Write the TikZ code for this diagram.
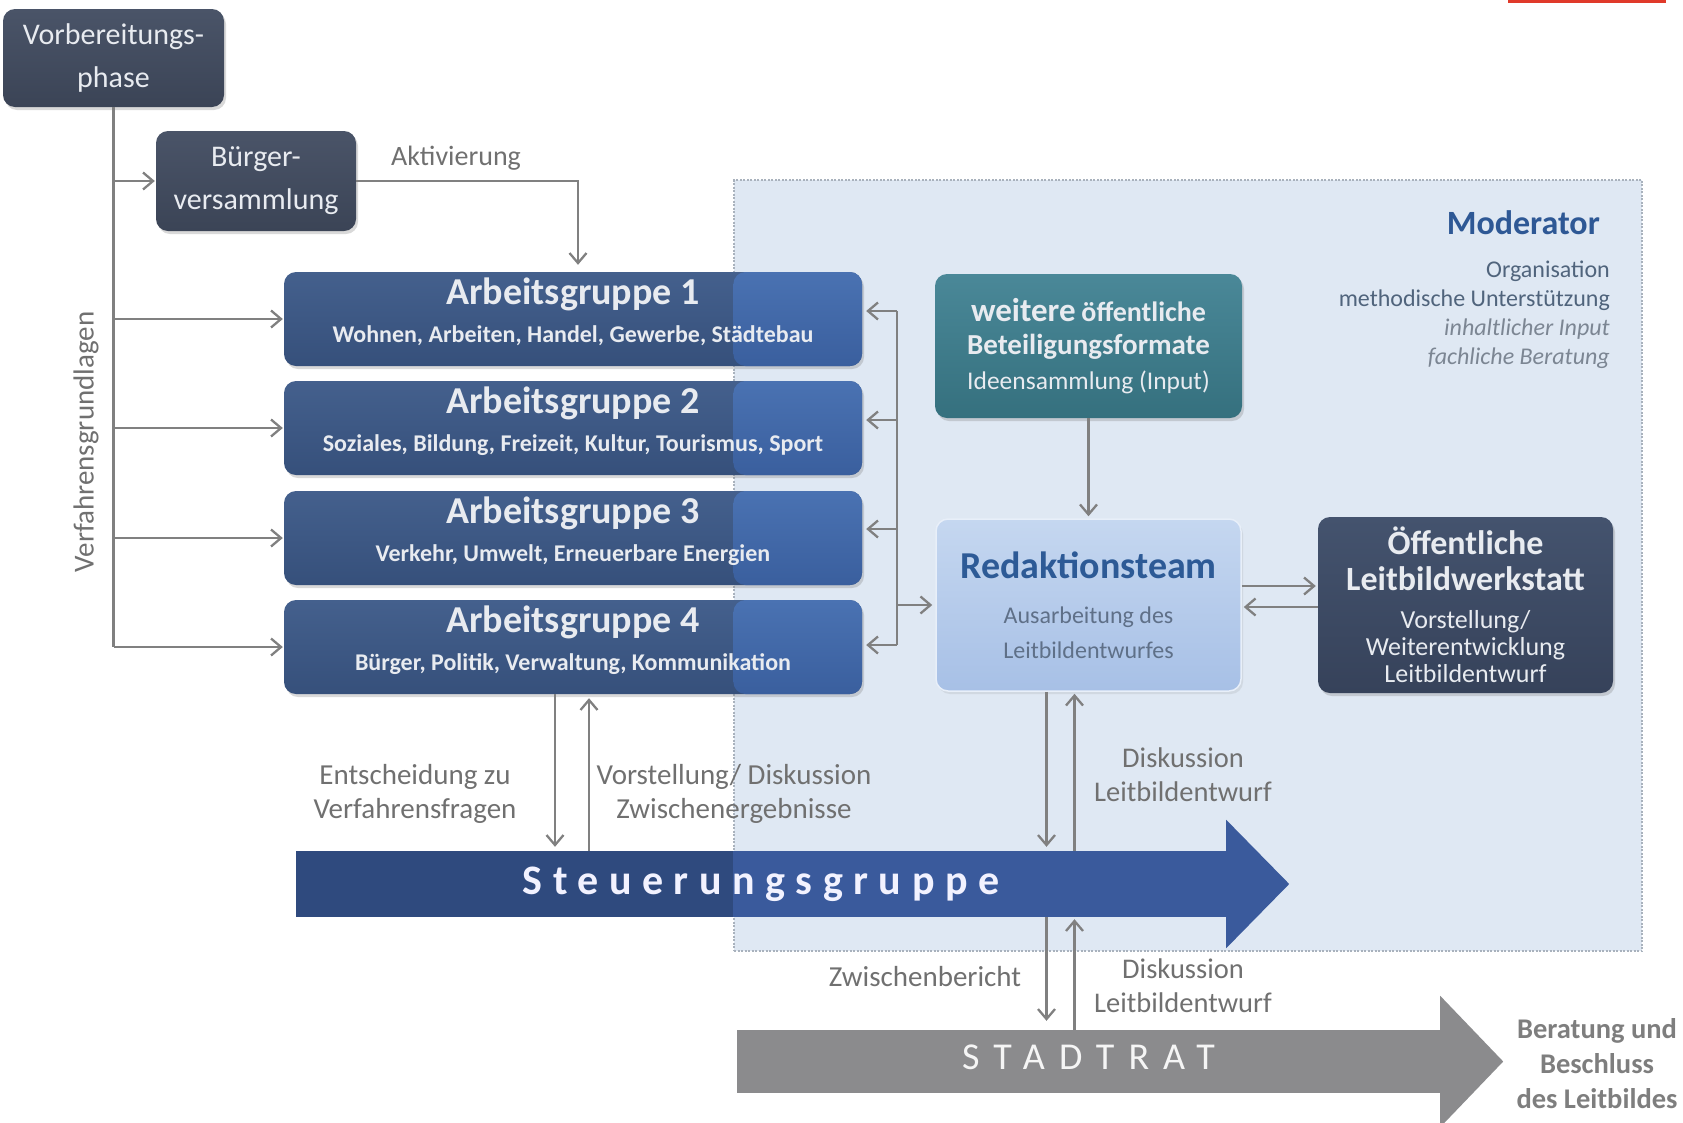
\documentclass[tikz,border=0pt]{standalone}
\usepackage{fontspec}
\setmainfont{Carlito}
\usetikzlibrary{arrows.meta,calc,shadows}

\definecolor{slatetop}{HTML}{4A5468}
\definecolor{slatebot}{HTML}{3B4456}
\definecolor{boxtext}{HTML}{E8EBF0}
\definecolor{agtopL}{HTML}{44608D}
\definecolor{agbotL}{HTML}{36507B}
\definecolor{agtopR}{HTML}{4A72B2}
\definecolor{agbotR}{HTML}{3A5F9E}
\definecolor{tealtop}{HTML}{4A8898}
\definecolor{tealbot}{HTML}{35707E}
\definecolor{rttop}{HTML}{C5D7F0}
\definecolor{rtbot}{HTML}{A7C0E6}
\definecolor{rtblue}{HTML}{2D5A96}
\definecolor{rtsub}{HTML}{5F7088}
\definecolor{owtop}{HTML}{44536E}
\definecolor{owbot}{HTML}{36425A}
\definecolor{sgleft}{HTML}{2F4A7E}
\definecolor{sgright}{HTML}{3A5A9C}
\definecolor{stgray}{HTML}{8B8B8D}
\definecolor{modfill}{HTML}{DFE8F3}
\definecolor{modborder}{HTML}{A9B2BD}
\definecolor{modblue}{HTML}{2E5895}
\definecolor{modsub}{HTML}{50647C}
\definecolor{modital}{HTML}{7C8693}
\definecolor{linegray}{HTML}{808080}
\definecolor{lblgray}{HTML}{707070}
\definecolor{topred}{HTML}{E03A2A}

\begin{document}
\begin{tikzpicture}[x=1pt, y=-1pt,
    line/.style={draw=linegray, line width=2.3pt},
    conn/.style={line, -{Straight Barb[length=10pt,width=17pt]}},
    darkbox/.style={rounded corners=12pt, inner sep=0pt, align=center, text=boxtext,
      top color=slatetop, bottom color=slatebot,
      drop shadow={opacity=.3, shadow xshift=2pt, shadow yshift=-3pt},
      font=\fontsize{30}{43}\selectfont},
    agbox/.style={rounded corners=12pt, inner sep=0pt, align=center, text=boxtext,
      minimum width=578pt, minimum height=94pt, text depth=17pt,
      top color=agtopL, bottom color=agbotL,
      drop shadow={opacity=.3, shadow xshift=2pt, shadow yshift=-3pt},
      font=\fontsize{24}{38}\selectfont\bfseries,
      path picture={\shade[top color=agtopR, bottom color=agbotR]
        (mod.west |- path picture bounding box.north) rectangle (path picture bounding box.south east);}},
    modbox/.style={draw=modborder, fill=modfill, line width=1.2pt, dash pattern=on 2pt off 1.5pt, inner sep=0pt},
    lbl/.style={inner sep=0pt, align=center, text=lblgray, font=\fontsize{29}{34}\selectfont},
  ]
  \useasboundingbox (0,0) rectangle (1683,1122);

  \node[modbox, minimum width=908pt, minimum height=771pt] (mod) at (1188,565.5) {};
  \node[anchor=north east, align=right, inner sep=0pt, text=modsub, font=\fontsize{24}{29}\selectfont] (modtxt) at (1610,210)
    {{\fontsize{34}{29}\selectfont\bfseries\color{modblue}Moderator\hspace*{10pt}}\\[14pt]Organisation\\methodische Unterstützung\\
     {\itshape\color{modital}inhaltlicher Input}\\{\itshape\color{modital}fachliche Beratung}};

  \node[darkbox, minimum width=221pt, minimum height=98pt] (vb) at (113.5,58) {Vorbereitungs-\\phase};
  \node[darkbox, minimum width=200pt, minimum height=100pt] (bv) at (256,181) {Bürger-\\versammlung};

  \node[agbox] (ag1) at (573,319) {{\fontsize{38}{38}\selectfont Arbeitsgruppe 1}\\Wohnen, Arbeiten, Handel, Gewerbe, Städtebau};
  \node[agbox] (ag2) at (573,428) {{\fontsize{38}{38}\selectfont Arbeitsgruppe 2}\\Soziales, Bildung, Freizeit, Kultur, Tourismus, Sport};
  \node[agbox] (ag3) at (573,538) {{\fontsize{38}{38}\selectfont Arbeitsgruppe 3}\\Verkehr, Umwelt, Erneuerbare Energien};
  \node[agbox] (ag4) at (573,647) {{\fontsize{38}{38}\selectfont Arbeitsgruppe 4}\\Bürger, Politik, Verwaltung, Kommunikation};

  \node[minimum width=930pt, minimum height=66pt, inner sep=0pt, fill=sgleft, text=white!95!blue,
    font=\fontsize{42}{44}\selectfont\bfseries\addfontfeatures{LetterSpace=25},
    path picture={\fill[sgright] (mod.west |- path picture bounding box.north) rectangle (path picture bounding box.south east);}]
    (sg) at (761,884) {Steuerungsgruppe};
  \fill[sgright] (sg.north east) -- ++(0,-31) -- ($(sg.east)+(63,0)$) -- ($(sg.south east)+(0,31)$) -- (sg.south east) -- cycle;

  \node[minimum width=703pt, minimum height=63pt, inner sep=0pt, fill=stgray, text=white!96!black, text depth=8pt,
    font=\fontsize{38}{40}\selectfont\addfontfeatures{LetterSpace=37}] (st) at (1088.5,1061.5) {STADTRAT};
  \fill[stgray] (st.north east) -- ++(0,-34) -- ($(st.east)+(63,0)$) -- ($(st.south east)+(0,34)$) -- (st.south east) -- cycle;

  \node[darkbox, top color=tealtop, bottom color=tealbot, minimum width=307pt, minimum height=144pt,
    font=\fontsize{25.5}{33}\selectfont] (wf) at (1088.5,346)
    {{\fontsize{33}{33}\selectfont\bfseries weitere} {\fontsize{28}{33}\selectfont\bfseries öffentliche}\\
     {\fontsize{29}{33}\selectfont\bfseries Beteiligungsformate}\\[2pt]Ideensammlung (Input)};
  \node[rounded corners=12pt, inner sep=0pt, align=center, text=rtsub, draw=white!60!rttop, line width=1.5pt,
    top color=rttop, bottom color=rtbot, minimum width=305pt, minimum height=172pt,
    drop shadow={opacity=.15, shadow xshift=2pt, shadow yshift=-3pt},
    font=\fontsize{24}{35}\selectfont] (rt) at (1088.5,605)
    {{\fontsize{38}{35}\selectfont\bfseries\color{rtblue}Redaktionsteam}\\[10pt]Ausarbeitung des\\Leitbildentwurfes};
  \node[darkbox, top color=owtop, bottom color=owbot, minimum width=295pt, minimum height=176pt,
    font=\fontsize{26}{27}\selectfont] (ow) at (1465.5,605)
    {{\fontsize{34}{36}\selectfont\bfseries Öffentliche}\\[9pt]{\fontsize{34}{36}\selectfont\bfseries Leitbildwerkstatt}\\[11pt]Vorstellung/\\Weiterentwicklung\\Leitbildentwurf};

  \node[lbl, font=\fontsize{28}{34}\selectfont] (akt) at (456,158) {Aktivierung};
  \node[lbl, rotate=90] (vg) at (86,442) {Verfahrensgrundlagen};
  \node[lbl] (ent) at (415,794) {Entscheidung zu\\Verfahrensfragen};
  \node[lbl] (vd) at (734,794) {Vorstellung/ Diskussion\\Zwischenergebnisse};
  \node[lbl, font=\fontsize{28.5}{34}\selectfont] (dl1) at (1183,775) {Diskussion\\Leitbildentwurf};
  \node[lbl] (zb) at (925,977) {Zwischenbericht};
  \node[lbl, font=\fontsize{28.5}{34}\selectfont] (dl2) at (1183,986) {Diskussion\\Leitbildentwurf};
  \node[lbl, text=lblgray!90!white, font=\fontsize{28.5}{35}\selectfont\bfseries] (bes) at (1597,1064) {Beratung und\\Beschluss\\des Leitbildes};

  \draw[line] (vb.south) -- (vb.south |- ag4.west);
  \draw[conn, shorten >=1pt] (vb.south |- bv.west) -- (bv.west);
  \draw[conn, shorten >=1pt] (vb.south |- ag1.west) -- (ag1.west);
  \draw[conn, shorten >=1pt] (vb.south |- ag2.west) -- (ag2.west);
  \draw[conn, shorten >=1pt] (vb.south |- ag3.west) -- (ag3.west);
  \draw[conn, shorten >=1pt] (vb.south |- ag4.west) -- (ag4.west);
  \draw[conn, shorten >=7pt] (bv.east) -| ([xshift=5pt]ag1.north);

  \coordinate (bus) at ($(ag1.east)+(35,0)$);
  \draw[line] ($(bus |- ag1.east)+(0,-8)$) -- ($(bus |- ag4.east)+(0,-2)$);
  \draw[conn, shorten >=4pt] ($(bus |- ag1.east)+(0,-8)$) -- ($(ag1.east)+(0,-8)$);
  \draw[conn, shorten >=4pt] ($(bus |- ag2.east)+(0,-8)$) -- ($(ag2.east)+(0,-8)$);
  \draw[conn, shorten >=4pt] ($(bus |- ag3.east)+(0,-9)$) -- ($(ag3.east)+(0,-9)$);
  \draw[conn, shorten >=4pt] ($(bus |- ag4.east)+(0,-2)$) -- ($(ag4.east)+(0,-2)$);
  \draw[conn, shorten >=3pt] (bus |- rt.west) -- (rt.west);

  \draw[conn, shorten >=2pt] (wf.south) -- (rt.north);
  \draw[conn, shorten >=2pt] ($(rt.east)+(0,-19)$) -- ($(ow.west)+(0,-19)$);
  \draw[conn, shorten >=2pt] ($(ow.west)+(0,2)$) -- ($(rt.east)+(0,2)$);

  \draw[conn, shorten >=4pt] ($(ag4.south)+(-18,0)$) -- ($(ag4.south |- sg.north)+(-18,0)$);
  \draw[conn, shorten >=4pt] ($(ag4.south |- sg.north)+(16,0)$) -- ($(ag4.south)+(16,0)$);
  \draw[conn, shorten >=4pt] ($(rt.south)+(-42,0)$) -- ($(rt.south |- sg.north)+(-42,0)$);
  \draw[conn, shorten >=2pt] ($(rt.south |- sg.north)+(-14,0)$) -- ($(rt.south)+(-14,0)$);
  \draw[conn, shorten >=9pt] ($(st.north |- sg.south)+(-42,0)$) -- ($(st.north)+(-42,0)$);
  \draw[conn, shorten >=2pt] ($(st.north)+(-14,0)$) -- ($(st.north |- sg.south)+(-14,0)$);

  \draw[topred, line width=3pt] (1508,1.5) -- (1666,1.5);
\end{tikzpicture}
\end{document}
